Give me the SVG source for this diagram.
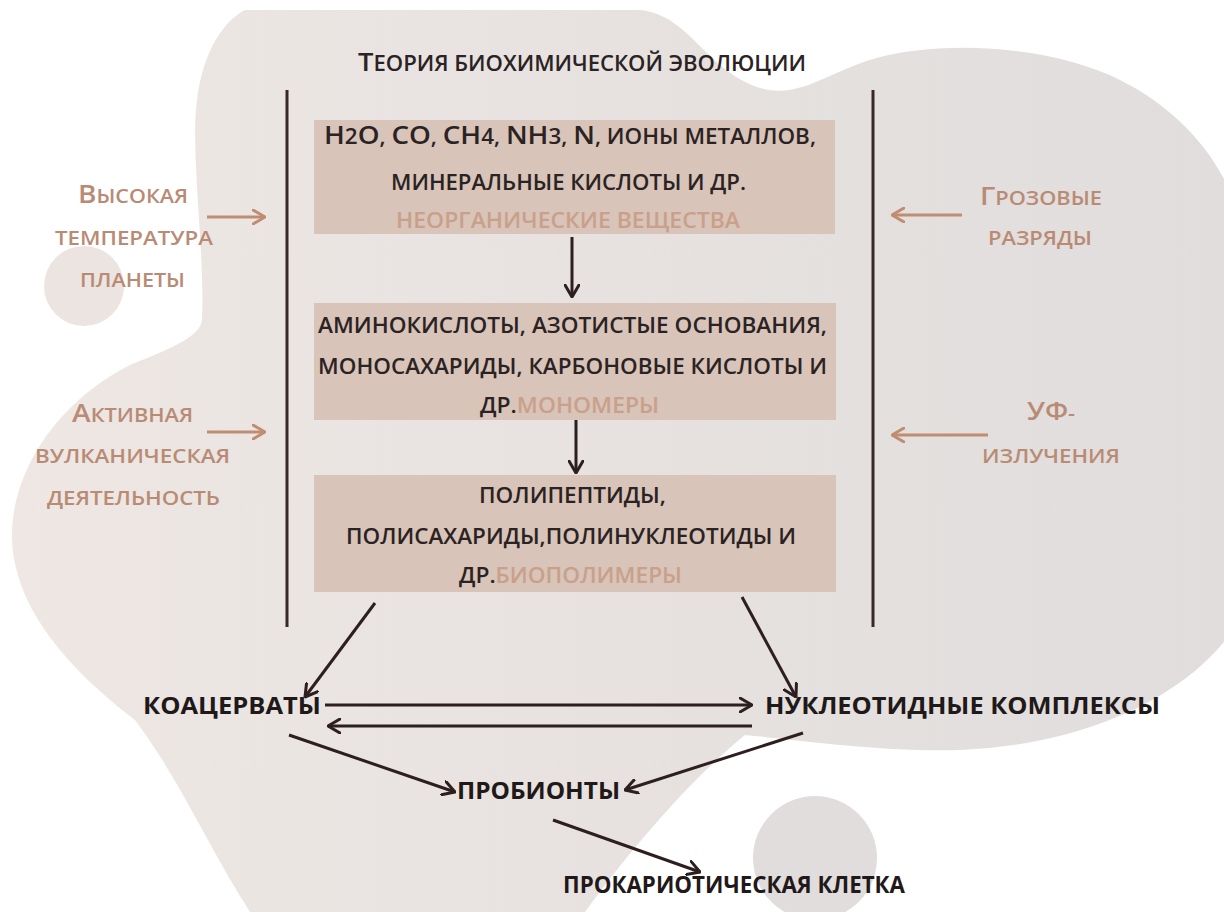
<svg xmlns="http://www.w3.org/2000/svg" width="1224" height="912" viewBox="0 0 1224 912">
<defs>
<linearGradient id="bg" gradientUnits="userSpaceOnUse" x1="0" y1="0" x2="1224" y2="0">
<stop offset="0" stop-color="#eee7e4"/>
<stop offset="1" stop-color="#e0dddc"/>
</linearGradient>
<marker id="ah" viewBox="0 0 14 16" refX="13" refY="8" markerWidth="14" markerHeight="16" markerUnits="userSpaceOnUse" orient="auto">
<path d="M1,1 L13,8 L1,15" fill="none" stroke="#2d1f1f" stroke-width="3" stroke-linecap="round" stroke-linejoin="round"/>
</marker>
<marker id="ahb" viewBox="0 0 14 16" refX="13" refY="8" markerWidth="14" markerHeight="16" markerUnits="userSpaceOnUse" orient="auto">
<path d="M1,1 L13,8 L1,15" fill="none" stroke="#c08d72" stroke-width="3" stroke-linecap="round" stroke-linejoin="round"/>
</marker>
</defs>
<style>
text{font-family:"Open Sans","Liberation Sans",sans-serif;font-weight:600;}
.t{fill:#2b2323;font-size:21px;}
.c{fill:#c9a08b;}
.lb{fill:#b98b74;font-size:20px;}
.bt{fill:#1f1919;font-size:23px;font-weight:700;}
.big{font-size:26px;}
.box{fill:#d8c4b8;}
.dk{stroke:#2d1f1f;stroke-width:3;fill:none;marker-end:url(#ah);}
.br{stroke:#c08d72;stroke-width:3;fill:none;marker-end:url(#ahb);}
.vl{stroke:#3a2828;stroke-width:3;}
</style>
<rect width="1224" height="912" fill="#ffffff"/>
<g id="background">
<path fill="url(#bg)" d="M245,10 L640,10 C690,15 705,70 760,88 C800,100 830,70 880,57 C960,38 1060,50 1120,80 C1180,110 1224,160 1240,220 L1240,620 C1190,700 1080,745 960,750 C880,752 800,740 745,735 C690,780 630,850 585,912 L250,912 C210,850 180,780 135,720 C70,670 15,610 12,540 C10,470 60,400 130,365 C180,345 200,335 202,320 C205,250 190,150 197,100 C203,50 225,20 245,10 Z"/>
<circle cx="84" cy="286" r="40" fill="#ebe4e1"/>
<circle cx="815" cy="858" r="62" fill="#e1dddc"/>
</g>
<g id="title">
<text class="t" x="358" y="71" textLength="448" lengthAdjust="spacingAndGlyphs"><tspan class="big">Т</tspan>ЕОРИЯ БИОХИМИЧЕСКОЙ ЭВОЛЮЦИИ</text>
</g>
<g id="frame">
<line class="vl" x1="287" y1="90" x2="287" y2="627"/>
<line class="vl" x1="873" y1="90" x2="873" y2="627"/>
</g>
<g id="node-inorganic">
<rect class="box" x="314" y="120" width="521" height="114"/>
<text class="t" x="324" y="144" textLength="492" lengthAdjust="spacingAndGlyphs"><tspan class="big">H</tspan>2<tspan class="big">O</tspan>, <tspan class="big">CO</tspan>, <tspan class="big">CH</tspan>4, <tspan class="big">NH</tspan>3, <tspan class="big">N</tspan>, ИОНЫ МЕТАЛЛОВ,</text>
<text class="t" x="391" y="190" textLength="355" lengthAdjust="spacingAndGlyphs">МИНЕРАЛЬНЫЕ КИСЛОТЫ И ДР.</text>
<text class="t c" x="396" y="228" textLength="344" lengthAdjust="spacingAndGlyphs">НЕОРГАНИЧЕСКИЕ ВЕЩЕСТВА</text>
</g>
<g id="node-monomers">
<rect class="box" x="314" y="303" width="522" height="117"/>
<text class="t" x="318" y="333" textLength="509" lengthAdjust="spacingAndGlyphs">АМИНОКИСЛОТЫ, АЗОТИСТЫЕ ОСНОВАНИЯ,</text>
<text class="t" x="318" y="374" textLength="509" lengthAdjust="spacingAndGlyphs">МОНОСАХАРИДЫ, КАРБОНОВЫЕ КИСЛОТЫ И</text>
<text class="t" x="480" y="413" textLength="179" lengthAdjust="spacingAndGlyphs">ДР.<tspan class="c">МОНОМЕРЫ</tspan></text>
</g>
<g id="node-biopolymers">
<rect class="box" x="314" y="475" width="522" height="117"/>
<text class="t" x="479" y="503" textLength="187" lengthAdjust="spacingAndGlyphs">ПОЛИПЕПТИДЫ,</text>
<text class="t" x="346" y="544" textLength="450" lengthAdjust="spacingAndGlyphs">ПОЛИСАХАРИДЫ,ПОЛИНУКЛЕОТИДЫ И</text>
<text class="t" x="459" y="583" textLength="223" lengthAdjust="spacingAndGlyphs">ДР.<tspan class="c">БИОПОЛИМЕРЫ</tspan></text>
</g>
<g id="factor-temperature">
<text class="lb" x="78" y="203" textLength="110" lengthAdjust="spacingAndGlyphs"><tspan class="big">В</tspan>ЫСОКАЯ</text>
<text class="lb" x="55" y="245" textLength="158" lengthAdjust="spacingAndGlyphs">ТЕМПЕРАТУРА</text>
<text class="lb" x="80" y="287" textLength="105" lengthAdjust="spacingAndGlyphs">ПЛАНЕТЫ</text>
</g>
<g id="factor-volcanic">
<text class="lb" x="72" y="422" textLength="121" lengthAdjust="spacingAndGlyphs"><tspan class="big">А</tspan>КТИВНАЯ</text>
<text class="lb" x="35" y="463" textLength="195" lengthAdjust="spacingAndGlyphs">ВУЛКАНИЧЕСКАЯ</text>
<text class="lb" x="47" y="505" textLength="173" lengthAdjust="spacingAndGlyphs">ДЕЯТЕЛЬНОСТЬ</text>
</g>
<g id="factor-lightning">
<text class="lb" x="980" y="205" textLength="122" lengthAdjust="spacingAndGlyphs"><tspan class="big">Г</tspan>РОЗОВЫЕ</text>
<text class="lb" x="988" y="245" textLength="104" lengthAdjust="spacingAndGlyphs">РАЗРЯДЫ</text>
</g>
<g id="factor-uv">
<text class="lb" x="1027" y="420" textLength="48" lengthAdjust="spacingAndGlyphs"><tspan class="big">УФ</tspan>-</text>
<text class="lb" x="982" y="463" textLength="138" lengthAdjust="spacingAndGlyphs">ИЗЛУЧЕНИЯ</text>
</g>
<g id="node-coacervates">
<text class="bt" x="143" y="714" textLength="178" lengthAdjust="spacingAndGlyphs">КОАЦЕРВАТЫ</text>
</g>
<g id="node-nucleotide">
<text class="bt" x="765" y="714" textLength="395" lengthAdjust="spacingAndGlyphs">НУКЛЕОТИДНЫЕ КОМПЛЕКСЫ</text>
</g>
<g id="node-probionts">
<text class="bt" x="457" y="799" textLength="163" lengthAdjust="spacingAndGlyphs">ПРОБИОНТЫ</text>
</g>
<g id="node-prokaryote">
<text class="bt" x="563" y="893" textLength="342" lengthAdjust="spacingAndGlyphs">ПРОКАРИОТИЧЕСКАЯ КЛЕТКА</text>
</g>
<g id="connectors">
<line class="dk" x1="572" y1="237" x2="572" y2="297"/>
<line class="dk" x1="576" y1="420" x2="576" y2="473"/>
<line class="dk" x1="375" y1="603" x2="305" y2="697"/>
<line class="dk" x1="742" y1="597" x2="796" y2="697"/>
<line class="dk" x1="325" y1="705" x2="752" y2="705"/>
<line class="dk" x1="752" y1="726" x2="328" y2="726"/>
<line class="dk" x1="289" y1="735" x2="455" y2="792"/>
<line class="dk" x1="803" y1="733" x2="625" y2="790"/>
<line class="dk" x1="553" y1="820" x2="700" y2="872"/>
<line class="br" x1="207" y1="217" x2="265" y2="217"/>
<line class="br" x1="207" y1="432" x2="265" y2="432"/>
<line class="br" x1="962" y1="215" x2="892" y2="215"/>
<line class="br" x1="988" y1="435" x2="892" y2="435"/>
</g>
</svg>
